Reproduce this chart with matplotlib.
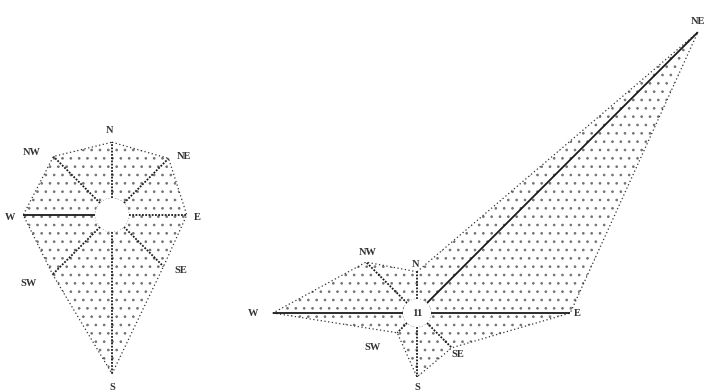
import numpy as np
import matplotlib
matplotlib.use("Agg")
import matplotlib.pyplot as plt

# направления и частоты ветра (в %)
directions = ["N", "NE", "E", "SE", "S", "SW", "W", "NW"]
left_freq = [7.0, 7.9, 7.25, 7.0, 17.75, 8.4, 9.0, 8.25]
right_freq = [3.4, 47.9, 17.4, 4.4, 6.25, 1.75, 16.25, 7.25]
right_calm = "11"

plt.rcParams["hatch.linewidth"] = 0.7

W, H = 707, 392
PX = 8.0  # пикселей на 1 %


def rose(fig, center, calm_r, r_max, freq, offsets, solid=(), calm_label=None):
    # полярная ось, центр в пикселях (от верхнего левого угла)
    size = (r_max + calm_r) * PX
    cx, cy = center
    ax = fig.add_axes([(cx - size) / W, (H - cy - size) / H, 2 * size / W, 2 * size / H],
                      projection="polar")
    ax.set_theta_zero_location("N")
    ax.set_theta_direction(-1)
    ax.set_rorigin(-calm_r)
    ax.set_ylim(0, r_max)
    ax.axis("off")

    theta = np.radians(np.arange(0, 360, 45))
    r = np.array(freq)
    th_c = np.append(theta, theta[0])
    r_c = np.append(r, r[0])

    ax.fill(th_c, r_c, facecolor="none", edgecolor="0.45", linewidth=0, hatch="..")
    ax.plot(th_c, r_c, color="0.2", lw=0.9, linestyle=(0, (1, 2)))

    circ = np.linspace(0, 2 * np.pi, 100)
    ax.fill(circ, np.zeros_like(circ), facecolor="white", edgecolor="0.4",
            lw=0.7, linestyle=(0, (1, 2)), zorder=3)

    for i, (t, v) in enumerate(zip(theta, r)):
        ls = "-" if directions[i] in solid else (0, (1, 0.8))
        ax.plot([t, t], [0, v], color="0.1", lw=1.3, linestyle=ls, solid_capstyle="butt")

    for t, v, lab, off in zip(theta, r, directions, offsets):
        ax.annotate(lab, xy=(t, v), xytext=off, textcoords="offset pixels",
                    ha="center", va="center", fontsize=7.5, family="Liberation Serif",
                    weight="bold", color="0.2", annotation_clip=False)
    if calm_label:
        ax.text(0.5, 0.5, calm_label, transform=ax.transAxes, ha="center", va="center",
                fontsize=8, family="Liberation Serif", weight="bold", color="0.2", zorder=4)
    return ax


fig = plt.figure(figsize=(W / 100, H / 100), dpi=100)

left_offsets = [(-2, 12), (15, 2), (11, -2), (17, -4), (0, -14), (-24, -9), (-13, -3), (-22, 4)]
right_offsets = [(-2, 7), (0, 11), (7, 0), (6, -7), (0, -11), (-25, -15), (-20, 0), (2, 10)]

rose(fig, (112, 215), 2.1, 23, left_freq, left_offsets, solid=("W",))
rose(fig, (417, 313), 1.75, 52, right_freq, right_offsets, solid=("NE", "E", "W"),
     calm_label=right_calm)

fig.savefig("out.png", dpi=100, facecolor="white")
